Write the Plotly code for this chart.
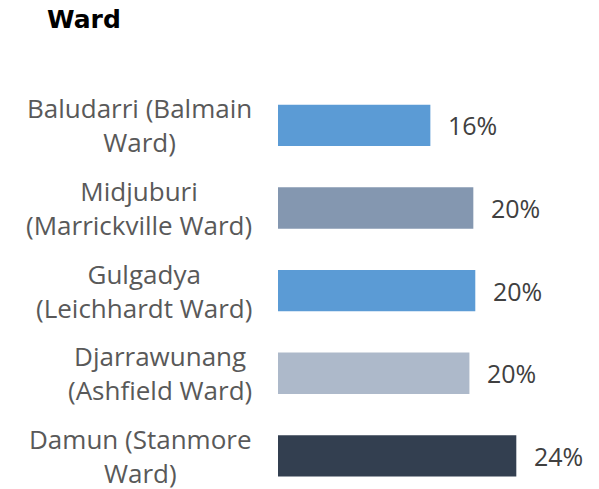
import plotly.graph_objects as go

# Data (bottom-to-top order)
categories = [
    "Damun (Stanmore<br>Ward)",
    "Djarrawunang<br>(Ashfield Ward)",
    "Gulgadya<br>(Leichhardt Ward)",
    "Midjuburi<br>(Marrickville Ward)",
    "Baludarri (Balmain<br>Ward)",
]
values = [24.4, 19.6, 20.2, 20.0, 15.6]
bar_colors = ["#333F50", "#ADB9CA", "#5B9BD5", "#8497B0", "#5B9BD5"]
title_text = "Ward"

fig = go.Figure()
fig.add_trace(go.Bar(
    x=values,
    y=categories,
    orientation="h",
    marker=dict(color=bar_colors, line=dict(width=0)),
    hoverinfo="skip",
))

annotations = []
for cat, v in zip(categories, values):
    annotations.append(dict(
        x=v, y=cat, xref="x", yref="y",
        text=f"{v:.0f}%", showarrow=False,
        xanchor="left", yanchor="middle", xshift=16,
        font=dict(family="Open Sans", size=25, color="#404040"),
    ))
    annotations.append(dict(
        x=0, y=cat, xref="paper", yref="y",
        text=cat, showarrow=False, align="center",
        xanchor="right", yanchor="middle", xshift=-24,
        font=dict(family="Open Sans", size=26, color="#595959"),
    ))

fig.update_layout(
    width=599, height=489,
    margin=dict(l=270, r=36, t=76, b=8, pad=0),
    paper_bgcolor="white", plot_bgcolor="white",
    showlegend=False,
    bargap=0.5,
    title=dict(
        text=title_text,
        xref="container", yref="container",
        x=39 / 599, xanchor="left",
        y=1 - 11 / 489, yanchor="middle",
        font=dict(family="DejaVu Sans", size=25, color="#000000", weight="bold"),
    ),
    xaxis=dict(range=[0, 30], visible=False, fixedrange=True),
    yaxis=dict(type="category", categoryarray=categories, range=[-0.4, 4.5],
               visible=False, fixedrange=True),
    annotations=annotations,
)

fig.write_html("out.html")
